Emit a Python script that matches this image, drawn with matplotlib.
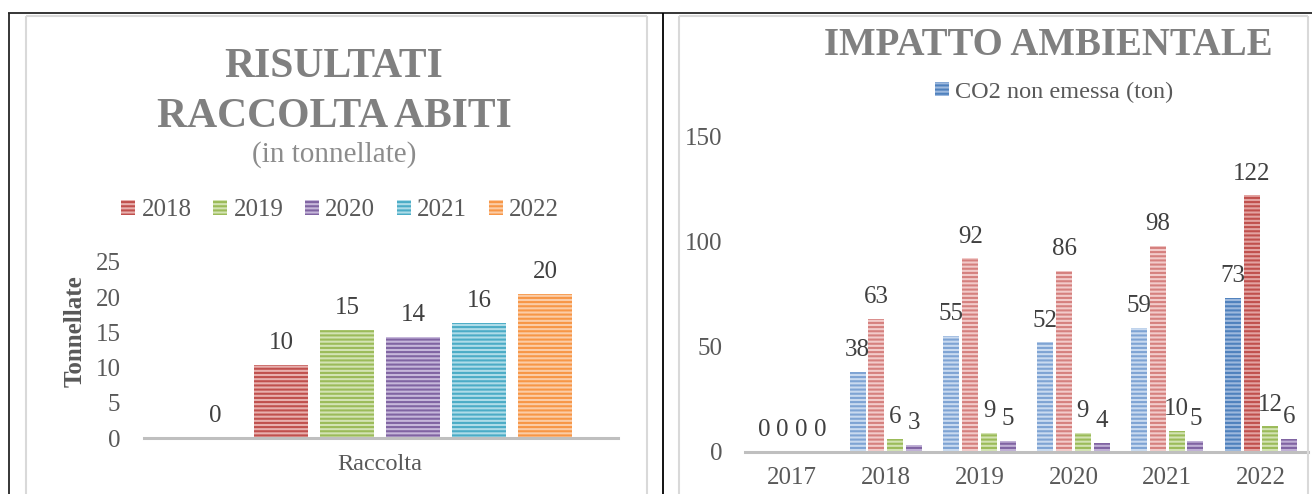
import numpy as np
import matplotlib
matplotlib.use("Agg")
import matplotlib.pyplot as plt
from matplotlib.lines import Line2D

# ---------------- data ----------------
raccolta_category = ["Raccolta"]
raccolta_series = ["2017", "2018", "2019", "2020", "2021", "2022"]
raccolta_values = [0, 10.4, 15.3, 14.3, 16.3, 20.4]
left_yticks = [0, 5, 10, 15, 20, 25]

impatto_years = ["2017", "2018", "2019", "2020", "2021", "2022"]
co2_non_emessa = [0, 38, 55, 52, 59, 73]
serie_rossa = [0, 63, 92, 86, 98, 122]
serie_verde = [0, 6, 9, 9, 10, 12]
serie_viola = [0, 3, 5, 4, 5, 6]
right_yticks = [0, 50, 100, 150]
legend_label = "CO2 non emessa (ton)"

# ---------------- style ----------------
plt.rcParams["font.family"] = ["Liberation Serif", "DejaVu Serif"]
plt.rcParams["hatch.linewidth"] = 1.5
W, H = 1312, 494
fig = plt.figure(figsize=(W / 100, H / 100), dpi=100)
fig.patch.set_facecolor("white")


def fx(px):
    return px / W


def fy(py):
    return 1 - py / H


TXT = "#595959"
LBL = "#404040"
TITLE = "#808080"
AXIS = "#BFBFBF"
HATCH = "----"

# frame lines
for xs, ys, c, lw in [
    ([8, 1312], [12.7, 12.7], "#262626", 1.3),
    ([8.5, 8.5], [12.7, 494], "#262626", 1.3),
    ([662.7, 662.7], [12.7, 494], "#000000", 1.3),
    ([26, 647], [16, 16], "#D9D9D9", 1.5),
    ([26, 26], [16, 494], "#D9D9D9", 1.5),
    ([647, 647], [16, 494], "#D9D9D9", 1.5),
    ([679, 1308], [16, 16], "#D9D9D9", 1.5),
    ([679, 679], [16, 494], "#D9D9D9", 1.5),
    ([1308, 1308], [16, 494], "#D9D9D9", 1.5),
]:
    fig.add_artist(Line2D([fx(x) for x in xs], [fy(y) for y in ys],
                          color=c, lw=lw, solid_capstyle="butt"))

# ---------------- left chart ----------------
ax1 = fig.add_axes([fx(144), fy(438.3), (618 - 144) / W, (438.3 - 261.7) / H])
left_base = ["#C0504D", "#C0504D", "#9BBB59", "#8064A2", "#4BACC6", "#F79646"]
left_face = ["#E8B0AE", "#E8B0AE", "#D3E3B3", "#C6B7DA", "#AEDCE8", "#FBCCA6"]
n = len(raccolta_series)
step = 1.0
width = 0.82
bars_left = []
for i, (name, val) in enumerate(zip(raccolta_series, raccolta_values)):
    x = (i - (n - 1) / 2) * step
    b = ax1.bar([x], [val], width=width, color=left_face[i], edgecolor=left_base[i],
                linewidth=0, hatch=HATCH, label=name)
    bars_left.append(b)
    ax1.annotate(f"{val:.0f}", xy=(x, val), xytext=(0, 11.5), textcoords="offset points",
                 ha="center", va="baseline", fontsize=18, color=LBL, annotation_clip=False)
ax1.set_xlim(-3.576, 3.606)
ax1.set_ylim(0, 25)
ax1.set_yticks(left_yticks)
ax1.set_xticks([0])
ax1.set_xticklabels(raccolta_category)
for s in ["top", "right", "left"]:
    ax1.spines[s].set_visible(False)
ax1.spines["bottom"].set_color(AXIS)
ax1.spines["bottom"].set_linewidth(2.2)
ax1.tick_params(length=0, labelsize=18, labelcolor=TXT)
ax1.tick_params(axis="y", pad=17)
ax1.tick_params(axis="x", pad=11, labelsize=17.5)
ax1.set_facecolor("none")
ax1.set_ylabel("Tonnellate", fontsize=18, fontweight="bold", color=TXT)
ax1.yaxis.set_label_coords((75 - 144) / 474, (438.3 - 331) / 176.6)
ax1.yaxis.label.set_va("center")

ax1.legend([b for b in bars_left[1:]], raccolta_series[1:], loc="center",
           bbox_to_anchor=(fx(340), fy(210)), bbox_transform=fig.transFigure,
           ncol=5, frameon=False, fontsize=18, handlelength=0.58, handleheight=0.53,
           handletextpad=0.25, columnspacing=0.85, labelcolor=TXT, borderpad=0)

fig.text(fx(334), fy(77.3), "RISULTATI", ha="center", va="baseline",
         fontsize=30, fontweight="bold", color=TITLE)
fig.text(fx(334), fy(126.7), "RACCOLTA ABITI", ha="center", va="baseline",
         fontsize=30, fontweight="bold", color=TITLE)
fig.text(fx(334), fy(162), "(in tonnellate)", ha="center", va="baseline",
         fontsize=21, color="#8C8C8C")

# ---------------- right chart ----------------
ax2 = fig.add_axes([fx(745), fy(451.7), (1308 - 745) / W, (451.7 - 136.7) / H])
xr = np.arange(len(impatto_years))
bw = 0.17
bs = 0.2
blue_face = ["#C9DAF0"] * 5 + ["#9DB9DE"]
blue_edge = ["#7EA3D3"] * 5 + ["#4F81BD"]
red_face = ["#F2CBCA"] * 5 + ["#E3A3A1"]
red_edge = ["#D5807E"] * 5 + ["#C0504D"]
series_r = [
    (co2_non_emessa, blue_face, blue_edge),
    (serie_rossa, red_face, red_edge),
    (serie_verde, ["#D3E3B3"] * 6, ["#9BBB59"] * 6),
    (serie_viola, ["#C0B0D6"] * 6, ["#8064A2"] * 6),
]
handles_r = []
for j, (vals, fc, ec) in enumerate(series_r):
    xs = xr + (j - 1.5) * bs
    b = ax2.bar(xs, vals, width=bw, color=fc, edgecolor=ec, linewidth=0, hatch=HATCH)
    handles_r.append(b)
    for x, v in zip(xs, vals):
        ax2.annotate(f"{v:.0f}", xy=(x, v), xytext=(0, 11.5), textcoords="offset points",
                     ha="center", va="baseline", fontsize=18, color=LBL,
                     annotation_clip=False)
ax2.set_xlim(-0.5, 5.5)
ax2.set_ylim(0, 150)
ax2.set_yticks(right_yticks)
ax2.set_xticks(xr)
ax2.set_xticklabels(impatto_years)
for s in ["top", "right", "left"]:
    ax2.spines[s].set_visible(False)
ax2.spines["bottom"].set_color(AXIS)
ax2.spines["bottom"].set_linewidth(2.2)
ax2.tick_params(length=0, labelsize=18, labelcolor=TXT)
ax2.tick_params(axis="y", pad=16.5)
ax2.tick_params(axis="x", pad=11)
ax2.set_facecolor("none")

leg_h = plt.Rectangle((0, 0), 1, 1, facecolor="#9DB9DE", edgecolor="#4F81BD",
                      linewidth=0, hatch=HATCH)
ax2.legend([leg_h], [legend_label], loc="center",
           bbox_to_anchor=(fx(1054), fy(92)), bbox_transform=fig.transFigure,
           frameon=False, fontsize=17.5, handlelength=0.55, handleheight=0.55,
           handletextpad=0.25, labelcolor=TXT, borderpad=0)

fig.text(fx(1048), fy(55), "IMPATTO AMBIENTALE", ha="center", va="baseline",
         fontsize=28, fontweight="bold", color=TITLE)

fig.savefig("out.png", dpi=100)
